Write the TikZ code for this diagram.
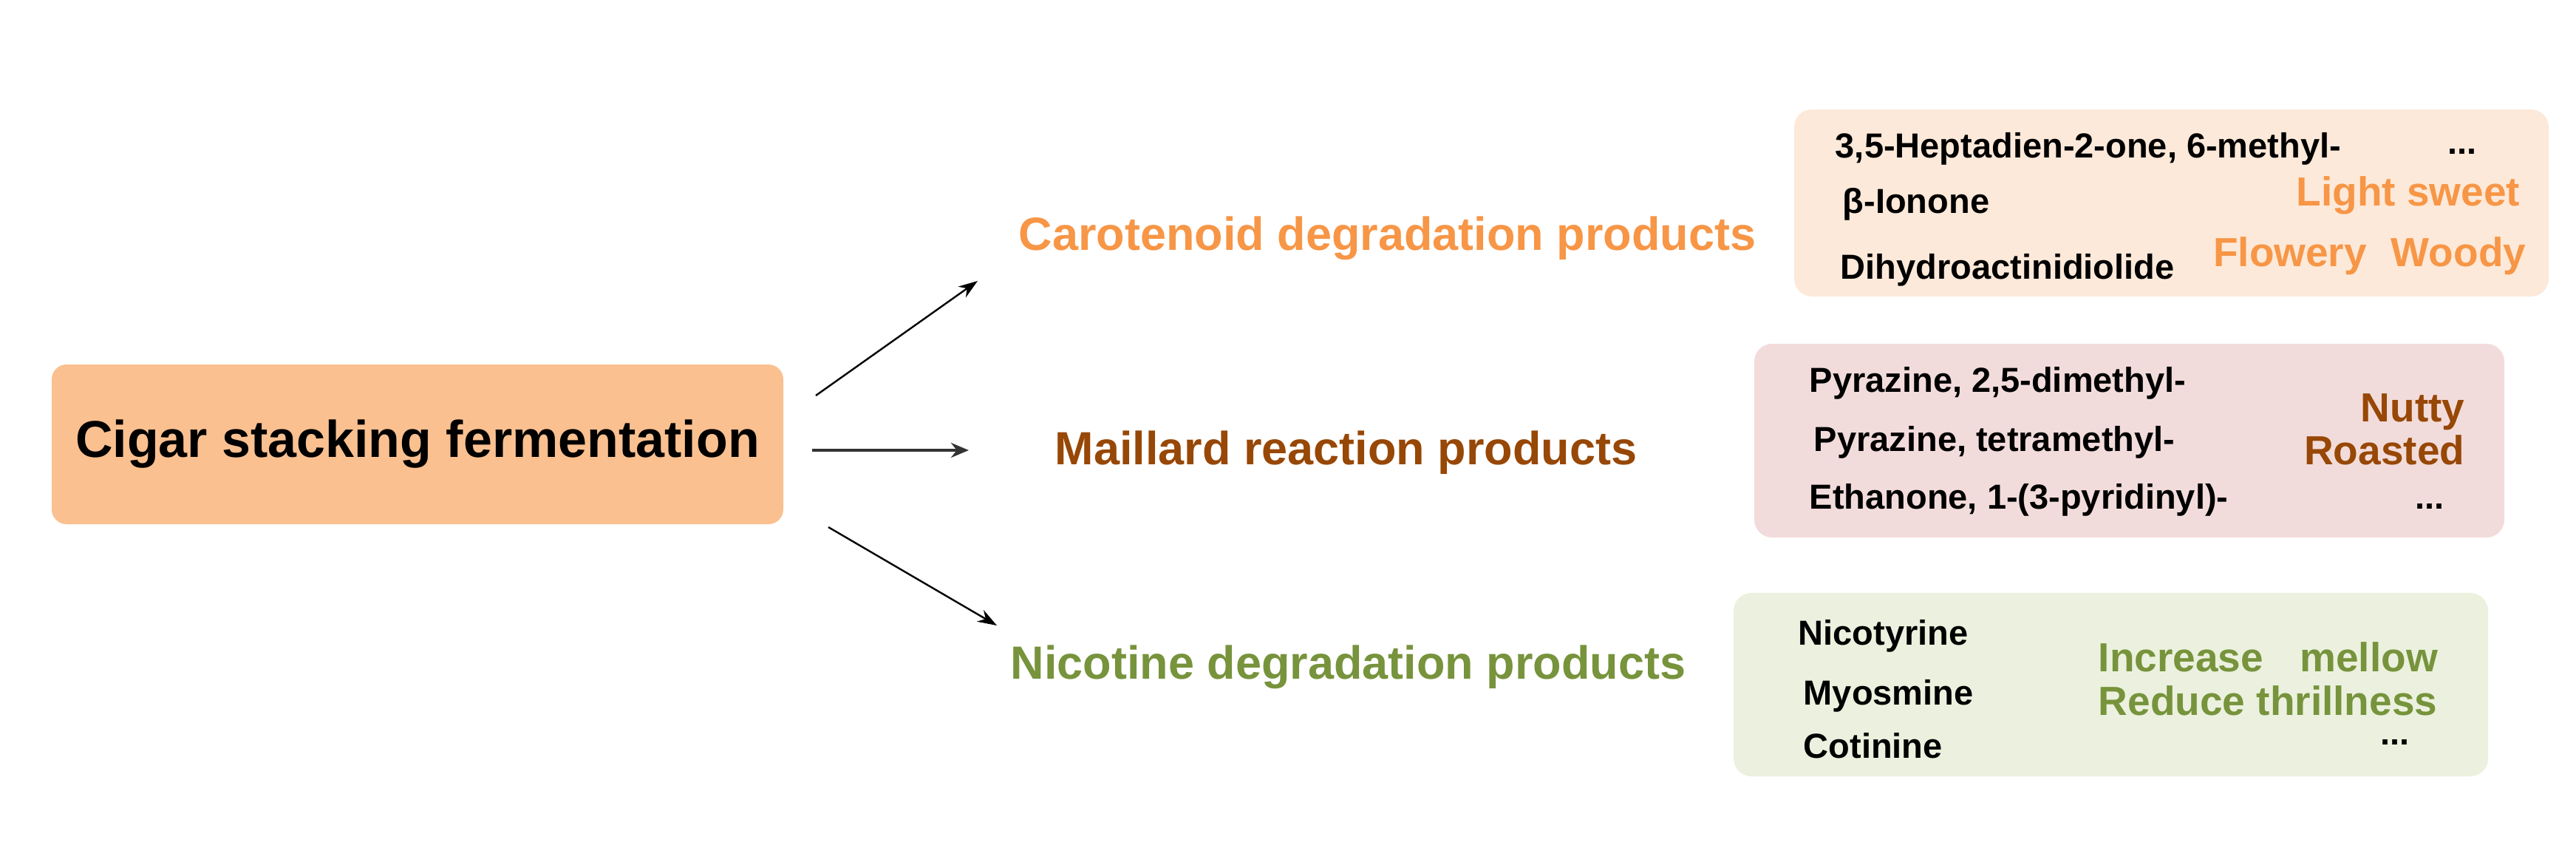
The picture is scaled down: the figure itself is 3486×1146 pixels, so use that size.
\documentclass[tikz,border=0pt]{standalone}
\usepackage{fontspec}
\setmainfont{Liberation Sans}
\usetikzlibrary{arrows.meta}
\definecolor{mainfill}{HTML}{FAC090}
\definecolor{caro}{HTML}{F79646}
\definecolor{mail}{HTML}{974706}
\definecolor{nico}{HTML}{77933C}
\definecolor{boxA}{HTML}{FDE9D9}
\definecolor{boxB}{HTML}{F2DCDB}
\definecolor{boxC}{HTML}{EBF1DE}
\begin{document}
\begin{tikzpicture}[x=0.25pt,y=-0.25pt,
  mainbox/.style={fill=mainfill, rounded corners=5pt, inner sep=0pt,
    minimum width=247.5pt, minimum height=54pt,
    font=\bfseries\fontsize{17.5}{21}\selectfont},
  rbox/.style={rounded corners=6pt, inner sep=0pt},
  cat/.style={inner sep=0pt, anchor=base west, font=\bfseries\fontsize{15.75}{19}\selectfont},
  cmp/.style={inner sep=0pt, anchor=base west, font=\bfseries\fontsize{11.75}{14}\selectfont},
  dots/.style={inner sep=0pt, anchor=base east, font=\bfseries\fontsize{11.75}{14}\selectfont},
  note/.style={inner sep=0pt, font=\bfseries\fontsize{13.75}{16}\selectfont},
  thinarr/.style={line width=0.6pt, -{Stealth[length=6.5pt, width=4.5pt]}},
  thickarr/.style={line width=1.2pt, draw=black!80, -{Stealth[length=6pt, width=5pt]}}
]
\useasboundingbox (0,0) rectangle (3486,1146);

% main box
\node[mainbox] (main) at (565,601) {Cigar stacking fermentation};

% category labels
\node[cat, text=caro] (caro) at (1378,338) {Carotenoid degradation products};
\node[cat, text=mail] (mail) at (1427,628) {Maillard reaction products};
\node[cat, text=nico] (nico) at (1367,918) {Nicotine degradation products};

% arrows
\coordinate (s1) at (1104,535); \coordinate (t1) at (1323,380);
\coordinate (s2) at (1099,609); \coordinate (t2) at (1311,609);
\coordinate (s3) at (1121,713); \coordinate (t3) at (1349,846);
\draw[thinarr] (s1) -- (t1);
\draw[thickarr] (s2) -- (t2);
\draw[thinarr] (s3) -- (t3);

% right boxes
\node[rbox, fill=boxA, minimum width=255.25pt, minimum height=63.25pt] (bA) at (2938.5,274.5) {};
\node[rbox, fill=boxB, minimum width=253.75pt, minimum height=65.5pt] (bB) at (2881.5,596) {};
\node[rbox, fill=boxC, minimum width=255.25pt, minimum height=62pt] (bC) at (2856.5,926) {};

% box A texts
\node[cmp] (a1) at (2483,213) {3,5-Heptadien-2-one, 6-methyl-};
\node[dots] (ad) at (3352,208) {...};
\node[cmp] (a2) at (2493,288) {β-Ionone};
\node[cmp] (a3) at (2490,377) {Dihydroactinidiolide};
\node[note, text=caro, anchor=base east] (an1) at (3411,278) {Light sweet};
\node[note, text=caro, anchor=base east] (an2) at (3419,360) {Flowery\hspace{0.6em}Woody};

% box B texts
\node[cmp] (b1) at (2448,530) {Pyrazine, 2,5-dimethyl-};
\node[cmp] (b2) at (2454,610) {Pyrazine, tetramethyl-};
\node[cmp] (b3) at (2448,688) {Ethanone, 1-(3-pyridinyl)-};
\node[note, text=mail, anchor=base east] (bn1) at (3336,570) {Nutty};
\node[note, text=mail, anchor=base east] (bn2) at (3336,628) {Roasted};
\node[dots] (bd) at (3308,688) {...};

% box C texts
\node[cmp] (c1) at (2433,872) {Nicotyrine};
\node[cmp] (c2) at (2440,953) {Myosmine};
\node[cmp] (c3) at (2440,1025) {Cotinine};
\node[note, text=nico, anchor=base west] (cn1) at (2839,908) {Increase\hspace{0.9em}mellow};
\node[note, text=nico, anchor=base west] (cn2) at (2839,967) {Reduce thrillness};
\node[dots] (cd) at (3261,1007) {...};
\end{tikzpicture}
\end{document}
